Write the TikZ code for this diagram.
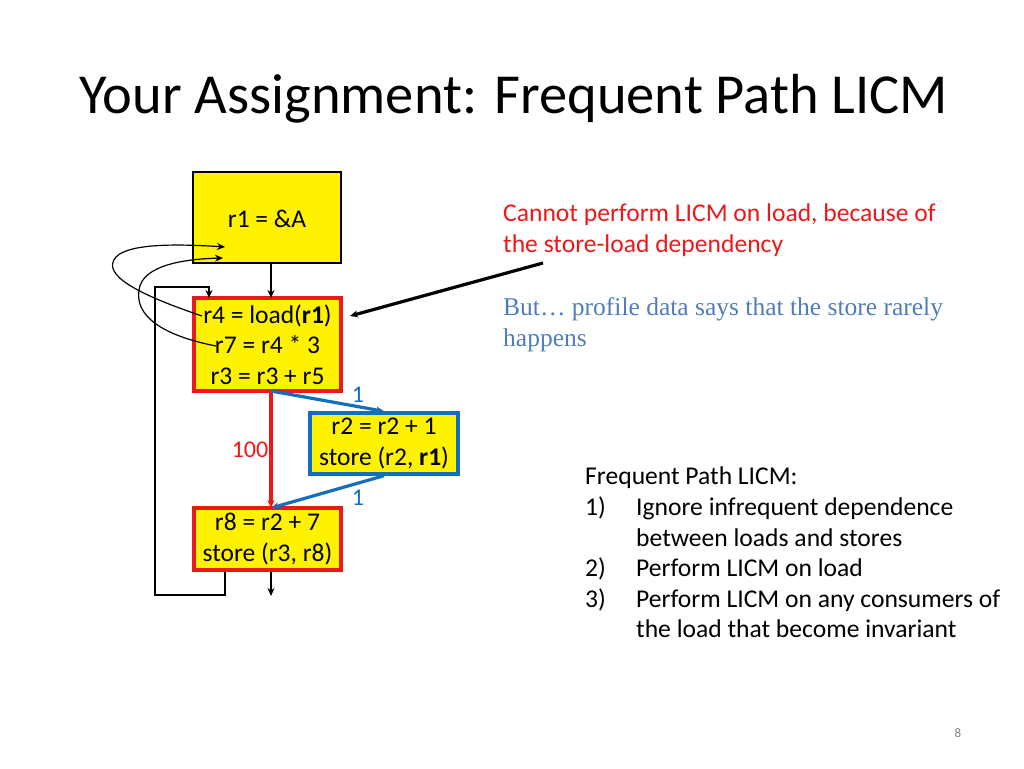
\documentclass[tikz,border=0pt]{standalone}
\usepackage{amsmath}
\usepackage{fontspec}
\setmainfont{Carlito}
\newfontfamily\timesfont{Liberation Serif}
\usetikzlibrary{positioning,arrows.meta}
\definecolor{hotred}{RGB}{235,25,25}
\definecolor{coldblue}{RGB}{20,110,190}
\definecolor{butblue}{RGB}{80,125,185}
\tikzset{blk/.style={draw, fill=yellow, align=center, font=\fontsize{25.5}{30.5}\selectfont, inner sep=0pt},
         hotblk/.style={blk, draw=hotred, line width=3.4pt},
         coldblk/.style={blk, draw=coldblue, line width=3.4pt}}
\begin{document}
\begin{tikzpicture}[x=1pt, y=-1pt, >={Stealth[length=8pt,width=7pt]}]
\useasboundingbox (0,0) rectangle (1024,768);
\node[anchor=west, font=\fontsize{56.5}{56.5}\selectfont] (title) at (76,99) {Your Assignment: Frequent Path LICM};

% the loop
\node[blk, minimum width=148pt, minimum height=91pt, line width=1.2pt] (entry) at (267,217.5) {};
\node[font=\fontsize{25.5}{25.5}\selectfont] (entrytxt) at (267,219) {r1 = \&A};
\node[hotblk, minimum width=147pt, minimum height=93pt] (header) at (267.5,344.5) {r4 = load(\textbf{r1})\\r7 = r4 * 3\\r3 = r3 + r5};
\node[coldblk, minimum width=148pt, minimum height=61pt] (rare) at (384,443.5) {r2 = r2 + 1\\store (r2, \textbf{r1})};
\node[hotblk, minimum width=147pt, minimum height=62pt] (tail) at (267.5,539) {r8 = r2 + 7\\store (r3, r8)};

\coordinate (hdrtop) at (271,298);
\coordinate (hdrbot) at (271,391);
\coordinate (tailtop) at (271,508);
\coordinate (exit) at (271,596);
\coordinate (r4pt) at (202,316);
\coordinate (r7pt) at (216,346);
\coordinate (tipa) at (225,247);
\coordinate (tipb) at (223,258);
\coordinate (backin) at (209,298);

\draw[->, line width=1.2pt] (entry.south -| hdrtop) -- (hdrtop);
\draw[->, hotred, line width=3.2pt] (hdrbot) -- (tailtop);
\draw[->, coldblue, line width=3.2pt] (hdrbot) -- (rare.north);
\draw[->, coldblue, line width=3.2pt] (rare.south) -- (tailtop);
\draw[->, line width=1.2pt] (tail.south -| exit) -- (exit);
\draw[->, line width=1.2pt] (tail.south -| 225,0) -- (225,595) -- (155,595) -- (155,287) -- (209,287) -- (backin);

\draw[->, line width=1.2pt] (r4pt) .. controls (140,295) and (100,275) .. (116,257) .. controls (129,243) and (180,244) .. (tipa);
\draw[->, line width=1.2pt] (r7pt) .. controls (160,335) and (135,315) .. (139,290) .. controls (142,265) and (185,259) .. (tipb);

\node[hotred, font=\fontsize{24}{24}\selectfont] (hot) at (250,450) {100};
\node[coldblue, font=\fontsize{24}{24}\selectfont] (c1) at (358,395) {1};
\node[coldblue, font=\fontsize{24}{24}\selectfont] (c2) at (358,498) {1};

% notes
\node[hotred, anchor=north west, align=left, inner sep=0pt, font=\fontsize{25.6}{30.5}\selectfont] (why) at (503,204) {Cannot perform LICM on load, because of\\the store-load dependency};
\coordinate (whytail) at (543,263);
\coordinate (loadpt) at (350,316);
\draw[->, line width=3.2pt] (whytail) -- (loadpt);
\node[butblue, anchor=north west, align=left, inner sep=0pt, font=\timesfont\fontsize{25.5}{31}\selectfont] (but) at (503,297) {But\dots{} profile data says that the store rarely\\happens};

\node[anchor=north west, align=left, inner sep=0pt, font=\fontsize{25.6}{30.6}\selectfont] (plan) at (585,467)
  {Frequent Path LICM:\\
   \makebox[51pt][l]{1)}Ignore infrequent dependence\\
   \hspace*{51pt}between loads and stores\\
   \makebox[51pt][l]{2)}Perform LICM on load\\
   \makebox[51pt][l]{3)}Perform LICM on any consumers of\\
   \hspace*{51pt}the load that become invariant};

\node[gray, font=\fontsize{13}{13}\selectfont] (pg) at (958,733) {8};
\end{tikzpicture}
\end{document}
